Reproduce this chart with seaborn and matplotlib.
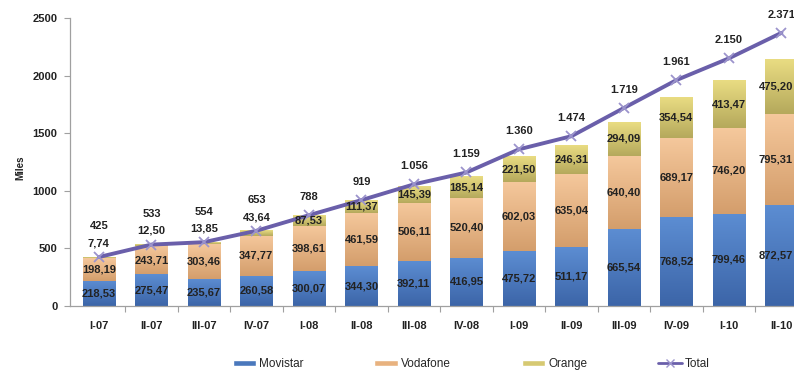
import numpy as np
import pandas as pd
import matplotlib
matplotlib.use("Agg")
import matplotlib.pyplot as plt
from matplotlib.lines import Line2D
from matplotlib.patches import Patch
from matplotlib.colors import to_rgb
import seaborn as sns

periods = ["I-07", "II-07", "III-07", "IV-07", "I-08", "II-08", "III-08", "IV-08",
           "I-09", "II-09", "III-09", "IV-09", "I-10", "II-10"]
movistar = [218.53, 275.47, 235.67, 260.58, 300.07, 344.30, 392.11, 416.95,
            475.72, 511.17, 665.54, 768.52, 799.46, 872.57]
vodafone = [198.19, 243.71, 303.46, 347.77, 398.61, 461.59, 506.11, 520.40,
            602.03, 635.04, 640.40, 689.17, 746.20, 795.31]
orange = [7.74, 12.50, 13.85, 43.64, 87.53, 111.37, 145.39, 185.14,
          221.50, 246.31, 294.09, 354.54, 413.47, 475.20]
total = [425, 533, 554, 653, 788, 919, 1056, 1159, 1360, 1474, 1719, 1961, 2150, 2371]
y_ticks = [0, 500, 1000, 1500, 2000, 2500]

C_MOV = "#4A78BC"
C_VOD = "#E8B27F"
C_ORA = "#D6C972"
C_TOT = "#6A5FAA"
C_TXT = "#222222"
# gradient (top, bottom) colours for each series
G_MOV = ("#5C8DD2", "#3C65A8")
G_VOD = ("#F5C89C", "#D49E6C")
G_ORA = ("#E9DC82", "#B5A95C")

sns.set_theme(style="white")
plt.rcParams['font.family'] = ['Liberation Sans', 'DejaVu Sans']

fig = plt.figure(figsize=(7.94, 3.74), dpi=100)
ax = fig.add_axes([70 / 794, 68 / 374, 1 - 70 / 794, 288 / 374])

df = pd.DataFrame({"period": periods, "movistar": movistar,
                   "vodafone": vodafone, "orange": orange, "total": total})
df["mv"] = df["movistar"] + df["vodafone"]
df["all"] = df["mv"] + df["orange"]

W = 0.61
sns.barplot(data=df, x="period", y="all", color=C_ORA, saturation=1, width=W, ax=ax)
sns.barplot(data=df, x="period", y="mv", color=C_VOD, saturation=1, width=W, ax=ax)
sns.barplot(data=df, x="period", y="movistar", color=C_MOV, saturation=1, width=W, ax=ax)

# gradient overlay on each stacked segment (uses the bar geometry seaborn drew)
n = len(periods)
bars_all = ax.patches[0:n]
def grad_img(top_c, bot_c):
    t = np.array(to_rgb(top_c)); b = np.array(to_rgb(bot_c))
    f = np.linspace(0, 1, 64)[:, None]
    return (t * (1 - f) + b * f)[:, None, :]
segments = [(np.zeros(n), df["movistar"].values, G_MOV),
            (df["movistar"].values, df["mv"].values, G_VOD),
            (df["mv"].values, df["all"].values, G_ORA)]
for lo, hi, cols in segments:
    img = grad_img(*cols)
    for i, p in enumerate(bars_all):
        x0 = p.get_x(); x1 = x0 + p.get_width()
        ax.imshow(img, extent=[x0, x1, lo[i], hi[i]], origin="upper",
                  aspect="auto", interpolation="bilinear", zorder=2.5)

idx = np.arange(n)
sns.lineplot(x=idx, y=df["total"].values, ax=ax, color=C_TOT, lw=2.8,
             marker="x", markersize=7, markeredgecolor="#9C94CC",
             markeredgewidth=1.3, zorder=5)

def dec(v):
    return f"{v:.2f}".replace(".", ",")

def thou(v):
    return f"{v:,}".replace(",", ".")

lab_kw = dict(va="center", fontsize=8, fontweight="bold", color=C_TXT, zorder=6)
xmax = 13.24
for i in range(n):
    m, v, o, t = movistar[i], vodafone[i], orange[i], total[i]
    # keep the last column's labels inside the image (they touch the right edge)
    if i == n - 1:
        xi, ha = xmax - 0.02, "right"
    else:
        xi, ha = i, "center"
    ax.text(xi, m / 2, dec(m), ha=ha, **lab_kw)
    ax.text(xi, m + v / 2, dec(v), ha=ha, **lab_kw)
    top = m + v + o
    if o < 50:
        ax.annotate(dec(o), (xi, top), xytext=(0, 10), textcoords="offset points", ha=ha, **lab_kw)
        toff = 22
    else:
        ax.text(xi, m + v + o / 2, dec(o), ha=ha, **lab_kw)
        toff = 13
    ax.annotate(thou(t), (i, t), xytext=(0, toff), textcoords="offset points",
                ha="center", **lab_kw)

ax.set_xlim(-0.55, xmax)
ax.set_ylim(0, 2500)
ax.set_yticks(y_ticks)
ax.set_yticklabels([str(v) for v in y_ticks], fontsize=8, fontweight="bold", color=C_TXT)
ax.set_xticks(idx)
ax.set_xticklabels(periods, fontsize=8, fontweight="bold", color=C_TXT)
ax.set_xticks(idx[:-1] + 0.5, minor=True)
ax.tick_params(axis="x", which="major", length=0, pad=11)
ax.tick_params(axis="x", which="minor", length=4, width=0.8, color="#A0A0A0", direction="out", bottom=True)
ax.tick_params(axis="y", length=4, width=0.8, color="#A0A0A0", direction="out", left=True, pad=5)
ax.set_xlabel("")
ax.set_ylabel("Miles", fontsize=7, fontweight="bold", color=C_TXT, labelpad=7)
ax.yaxis.set_label_coords(-0.062, 0.48)

for s in ["top", "right"]:
    ax.spines[s].set_visible(False)
for s in ["left", "bottom"]:
    ax.spines[s].set_color("#A0A0A0")
    ax.spines[s].set_linewidth(0.9)

handles = [Patch(facecolor=C_MOV, label="Movistar"),
           Patch(facecolor=C_VOD, label="Vodafone"),
           Patch(facecolor=C_ORA, label="Orange"),
           Line2D([0], [0], color=C_TOT, lw=2, marker="x", markersize=6,
                  markeredgecolor="#9C94CC", label="Total")]
fig.legend(handles=handles, loc="center", bbox_to_anchor=(471 / 794, 1 - 364 / 374),
           ncol=4, frameon=False, fontsize=8.5, handlelength=2.0, handleheight=0.45,
           handletextpad=0.25, columnspacing=6.0)

fig.savefig("out.png", dpi=100)
